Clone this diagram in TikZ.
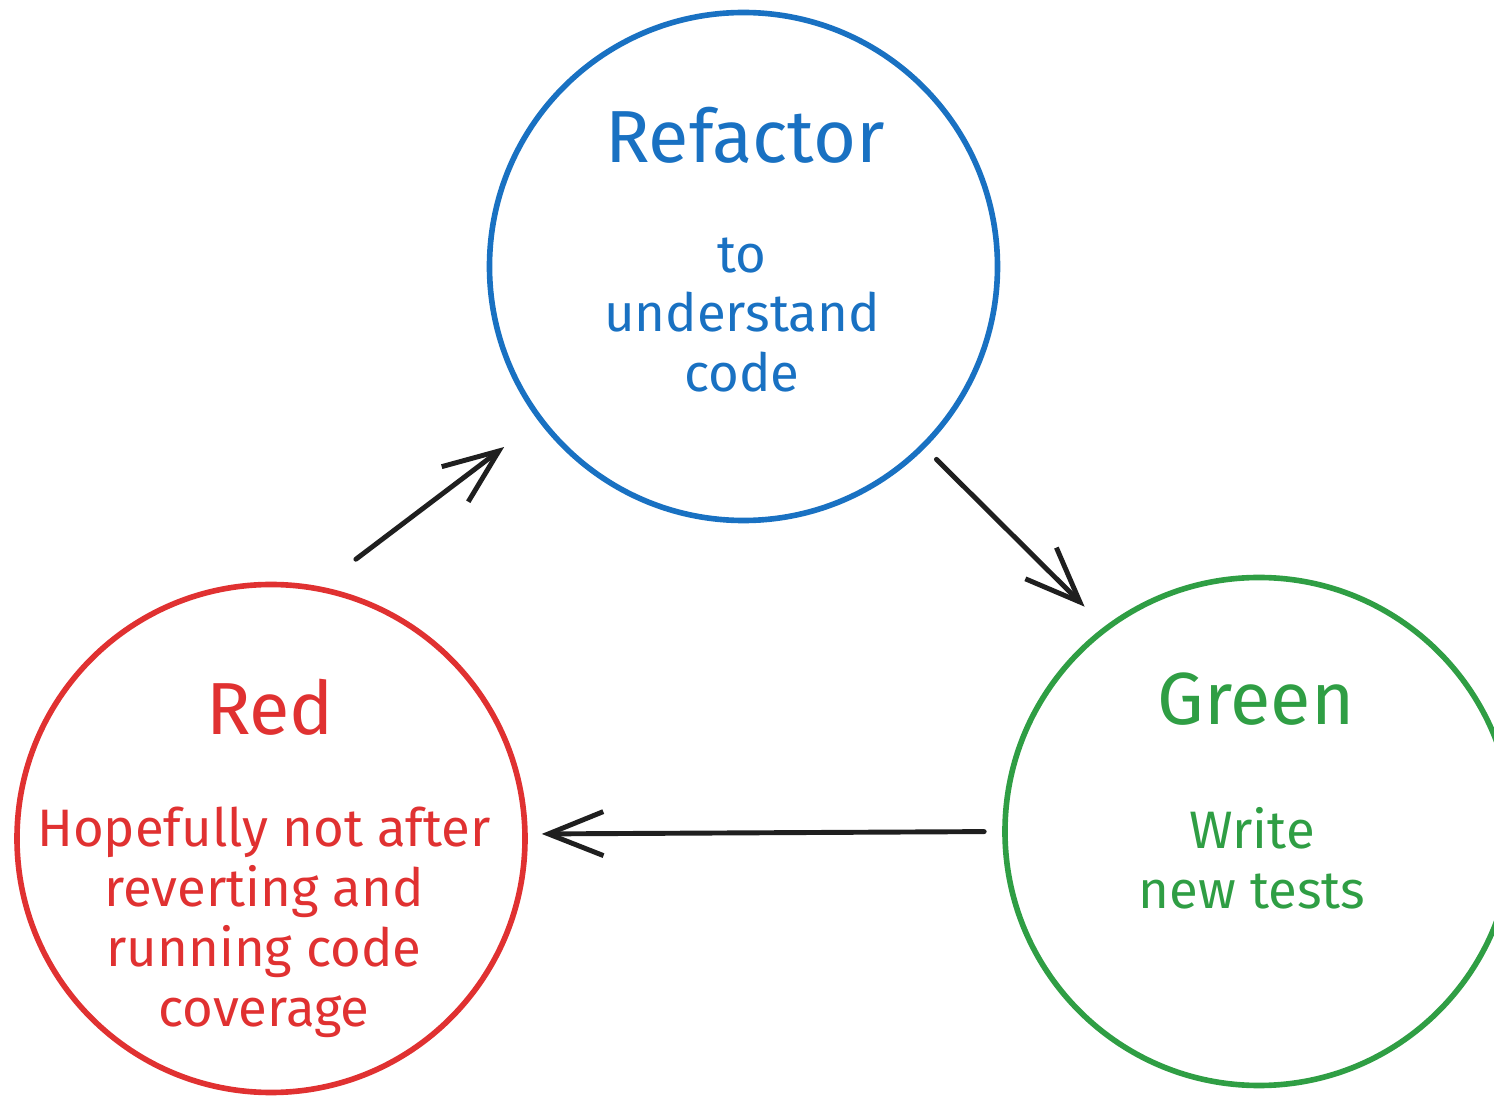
\documentclass[tikz,border=0pt]{standalone}
\usepackage{fontspec}
\setmainfont{Fira Sans}
\usetikzlibrary{arrows.meta}
\definecolor{refblue}{HTML}{1971C2}
\definecolor{redred}{HTML}{E03131}
\definecolor{grngreen}{HTML}{2F9E44}

\begin{document}
\begin{tikzpicture}[>={Straight Barb[length=5.5mm,width=4.4mm]},line cap=round,
  stage/.style={circle,draw,line width=1.6pt,minimum size=5.08cm,inner sep=0pt},
  head/.style={font=\fontsize{21}{25}\selectfont,anchor=base},
  body/.style={font=\fontsize{15}{17}\selectfont,align=center,anchor=north},
  flow/.style={->,line width=1.4pt,black!88}]
\useasboundingbox (0,0) rectangle (14.94,-10.97);
% the three stages
\node[stage,refblue] (refactor) at (7.435,-2.665) {};
\node[stage,redred] (red) at (2.71,-8.385) {};
\node[stage,grngreen] (green) at (12.59,-8.315) {};
%
\node[head,refblue] (refactorhead) at (7.45,-1.63) {Refactor};
\node[body,refblue] (refactorbody) at (7.42,-2.25) {to\\understand\\code};
%
\node[head,redred] (redhead) at (2.70,-7.35) {Red};
\node[body,redred] (redbody) at (2.64,-7.95) {Hopefully not after\\reverting and\\running code\\coverage};
%
\node[head,grngreen] (greenhead) at (12.56,-7.25) {Green};
\node[body,grngreen] (greenbody) at (12.52,-7.95) {Write\\new tests};
%% the cycle
\draw[flow,shorten <=4.5mm,shorten >=4.3mm] (red.79) -- (refactor.217);
\draw[flow,shorten <=1.6mm,shorten >=2.8mm] (refactor.315) -- (green.127);
\draw[flow,shorten <=1.8mm,shorten >=1.4mm] (green.180) -- (red.1.5);
\end{tikzpicture}
\end{document}
